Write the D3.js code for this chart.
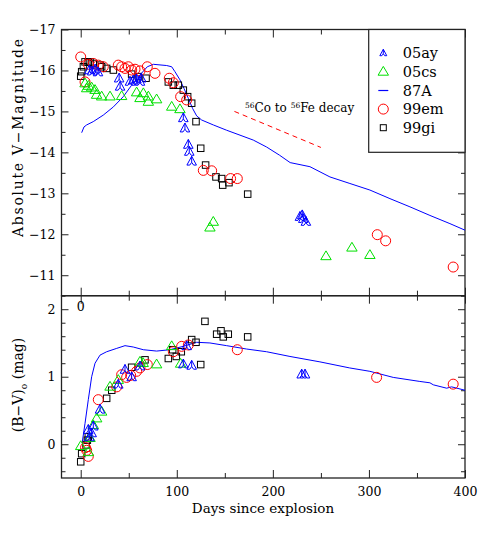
<!DOCTYPE html>
<html><head><meta charset="utf-8">
<script src="https://cdn.jsdelivr.net/npm/d3@7"></script>
<style>body{margin:0;background:#fff}svg{display:block}text{font-family:"DejaVu Serif",serif;fill:#000}</style>
</head><body>
<svg id="c" width="491" height="545"></svg>
<script>
// ---------------- DATA ----------------
const xTicksMajor = [0, 100, 200, 300, 400];
const xTicksMinor = [50, 150, 250, 350];
const vTicksMajor = [-17, -16, -15, -14, -13, -12, -11];
const vTicksMinor = [-16.5, -15.5, -14.5, -13.5, -12.5, -11.5, -10.5];
const bvTicksMajor = [0, 1, 2];
const bvTicksMinor = [-0.4, -0.2, 0.2, 0.4, 0.6, 0.8, 1.2, 1.4, 1.6, 1.8];

const series = ["05ay", "05cs", "87A", "99em", "99gi"];

// SN 1987A model curves
const a87Days = [1, 3.4, 6.2, 13, 23.5, 34, 44.3, 53, 61.7, 69.3, 75.6, 89.5, 94.7, 98.1, 103.3, 107.5, 112, 116.5, 120.7, 125.9, 138, 151.9, 165.8, 179.6, 193.5, 207, 218, 238.6, 259.4, 280.2, 301, 321.9, 342.7, 363.5, 384.3, 400];
const a87V = [-14.48, -14.62, -14.67, -14.75, -14.91, -15.11, -15.36, -15.64, -15.89, -16.09, -16.15, -16.12, -16.09, -15.97, -15.77, -15.56, -15.32, -15.07, -14.89, -14.79, -14.67, -14.54, -14.42, -14.30, -14.13, -13.93, -13.75, -13.65, -13.40, -13.24, -13.08, -12.87, -12.67, -12.46, -12.26, -12.10];
const a87BVDays = [1.7, 4.5, 7.9, 11.4, 14.9, 20.1, 27, 37.5, 46.1, 54.7, 65.1, 79, 92.9, 106.8, 120.7, 134.5, 151.9, 172.7, 193.5, 217.8, 249, 280, 301, 325.3, 353, 363.5, 367, 380.9, 386, 400];
const a87BV = [0.04, 0.31, 0.66, 1.0, 1.2, 1.32, 1.37, 1.42, 1.46, 1.44, 1.40, 1.38, 1.40, 1.45, 1.51, 1.50, 1.46, 1.41, 1.37, 1.30, 1.22, 1.13, 1.08, 0.99, 0.93, 0.91, 0.88, 0.83, 0.85, 0.80];

// SN 2005ay
const ay05VDays = [9, 12, 15, 18, 40, 41, 51.3, 54.7, 58, 61.7, 63, 106.8, 108.5, 112, 113, 115.5, 228.2, 230.6, 231.7, 234.4];
const ay05V = [-16.0, -15.97, -16.02, -15.95, -15.80, -15.60, -15.72, -15.75, -15.78, -15.72, -15.80, -14.83, -14.58, -14.18, -14.01, -13.77, -12.42, -12.46, -12.37, -12.30];
const ay05BVDays = [7.9, 9, 11.4, 13.1, 20.1, 39.1, 46.1, 53, 61.7, 106.8, 110.3, 115.5, 230, 233.5];
const ay05BV = [0.21, 0.10, 0.16, 0.26, 0.51, 0.88, 1.10, 0.99, 1.15, 1.18, 1.45, 1.16, 1.03, 1.03];

// SN 2005cs
const cs05VDays = [4.5, 6.2, 8, 11.4, 14.9, 16.5, 21.8, 30.5, 42.6, 58.2, 61.7, 65.2, 70.4, 70.4, 79, 94.7, 103.3, 134.5, 138, 255.3, 282.3, 301];
const cs05V = [-15.68, -15.56, -15.62, -15.58, -15.52, -15.40, -15.36, -15.36, -15.37, -15.46, -15.32, -15.44, -15.36, -15.23, -15.29, -15.11, -15.05, -12.16, -12.30, -11.46, -11.67, -11.49];
const cs05BVDays = [0, 8, 9.7, 13.1, 16.6, 21.8, 30.5, 39.1, 61.7, 65, 79, 94.7, 104];
const cs05BV = [-0.03, -0.12, 0.09, 0.28, 0.38, 0.48, 0.85, 0.95, 1.22, 1.20, 1.18, 1.45, 1.19];

// SN 1999em
const em99VDays = [0, 4.5, 8, 13.1, 18.3, 23.5, 39.1, 42.6, 46.1, 49.6, 53.1, 56.5, 61.7, 69.3, 77.3, 92.2, 96.4, 104, 110.3, 127.6, 136.3, 156, 163, 308.7, 317.4, 387.7];
const em99V = [-16.33, -15.72, -16.15, -16.17, -16.13, -16.09, -16.13, -16.09, -16.05, -16.09, -16.01, -16.03, -15.99, -16.09, -15.93, -15.81, -15.70, -15.36, -15.28, -13.56, -13.55, -13.36, -13.36, -11.99, -11.84, -11.2];
const em99BVDays = [5, 6.2, 7.9, 18.3, 37.5, 42.6, 47.8, 52, 58.2, 61.7, 69.3, 96.4, 105.1, 112, 163, 308, 387.7];
const em99BV = [-0.05, -0.09, -0.18, 0.66, 0.85, 1.03, 0.99, 1.02, 1.08, 1.13, 1.18, 1.37, 1.45, 1.47, 1.40, 0.99, 0.89];

// SN 1999gi
const gi99VDays = [0, 1, 2.8, 4.5, 7.9, 9.7, 13.1, 20.1, 21.8, 27, 34, 53, 60, 68, 91.2, 96.4, 101.6, 106.8, 111.3, 115.5, 120, 124.9, 130, 140.8, 146.7, 147.8, 154.3, 173.8];
const gi99V = [-15.86, -15.97, -16.09, -16.21, -16.20, -16.21, -16.17, -16.13, -16.09, -16.05, -16.01, -15.91, -15.85, -15.81, -15.72, -15.64, -15.64, -15.52, -15.36, -15.20, -14.75, -14.10, -13.69, -13.40, -13.36, -13.20, -13.26, -12.98];
const gi99BVDays = [0, 1, 5.5, 6.9, 7.9, 27, 32.3, 53, 66.9, 91.2, 95.7, 99.5, 104.7, 115.5, 120, 124.9, 129.3, 141.5, 146, 148.4, 153.6, 173.8];
const gi99BV = [-0.26, -0.14, -0.01, 0.06, 0.11, 0.68, 0.80, 1.14, 1.25, 1.27, 1.40, 1.30, 1.37, 1.55, 1.51, 1.18, 1.82, 1.63, 1.68, 1.59, 1.63, 1.59];

// Co decay guide line
const decayDays = [160, 250];
const decayV = [-15.0, -14.12];

// ---------------- DRAW ----------------
const svg = d3.select("#c");
const L = 61.5, R = 465, T = 29.5, M = 295.7, B = 478;
const x = d3.scaleLinear([-20, 400], [L, R]);
const yV = d3.scaleLinear([-17, -10.5], [T, M]);
const yBV = d3.scaleLinear([2.2, -0.5], [M, B]);

const BLUE = "#0000ff", GREEN = "#00e000", RED = "#ff0000", BLACK = "#000";
const zip = (a, b) => a.map((d, i) => [d, b[i]]);

function mk(fn, scale, vals, len, tr, fmt) {
  const ax = fn(scale).tickValues(vals).tickSizeInner(-len).tickSizeOuter(0).tickPadding(6);
  ax.tickFormat(fmt || "");
  const a = svg.append("g").attr("transform", tr).call(ax);
  a.select(".domain").remove();
  a.selectAll("line").attr("stroke", "#222").attr("stroke-width", 1);
  a.selectAll("text").attr("font-size", 12.5).attr("font-family", "DejaVu Serif").attr("fill", "#000");
  return a;
}

function panel(y, top, bot, yMaj, yMin, fmt, bottomLabels) {
  mk(d3.axisLeft, y, yMaj, 7, `translate(${L},0)`, fmt);
  mk(d3.axisLeft, y, yMin, 4, `translate(${L},0)`);
  mk(d3.axisRight, y, yMaj, 7, `translate(${R},0)`);
  mk(d3.axisRight, y, yMin, 4, `translate(${R},0)`);
  mk(d3.axisTop, x, xTicksMajor, 8, `translate(0,${top})`);
  mk(d3.axisTop, x, xTicksMinor, 5, `translate(0,${top})`);
  const ba = mk(d3.axisBottom, x, xTicksMajor, 8, `translate(0,${bot})`, bottomLabels ? d3.format("d") : null);
  if (bottomLabels) ba.selectAll("text").attr("dy", "0.95em");
  mk(d3.axisBottom, x, xTicksMinor, 5, `translate(0,${bot})`);
  svg.append("rect").attr("x", L).attr("y", top).attr("width", R - L).attr("height", bot - top)
    .attr("fill", "none").attr("stroke", "#222").attr("stroke-width", 1.3);
}

const minusFmt = d => d3.format("d")(d).replace("-", "\u2212");
panel(yV, T, M, vTicksMajor, vTicksMinor, minusFmt, false);
panel(yBV, M, B, bvTicksMajor, bvTicksMinor, d3.format("d"), true);

// markers
function tristar(g, h, color, sw) {
  g.append("path").attr("d",
    `M0,${-h} L${-0.87 * h},${0.6 * h} M0,${-h} L${0.87 * h},${0.6 * h} ` +
    `M${-0.87 * h},${0.6 * h} L${-0.35 * h},${0.6 * h} M${0.87 * h},${0.6 * h} L${0.35 * h},${0.6 * h} ` +
    `M0,${-h} L0,${0.1*h} M0,${0.1*h} L${-0.35 * h},${0.6 * h} M0,${0.1*h} L${0.35 * h},${0.6 * h}`)
    .attr("fill", "none").attr("stroke", color).attr("stroke-width", sw);
}
function triangle(g, s, color) {
  g.append("path").attr("d", `M0,${-s} L${0.95 * s},${0.6 * s} L${-0.95 * s},${0.6 * s} Z`)
    .attr("fill", "none").attr("stroke", color).attr("stroke-width", 1);
}
function circle(g, r, color) {
  g.append("circle").attr("r", r).attr("fill", "none").attr("stroke", color).attr("stroke-width", 1);
}
function square(g, s, color) {
  g.append("rect").attr("x", -s / 2).attr("y", -s / 2).attr("width", s).attr("height", s)
    .attr("fill", "none").attr("stroke", color).attr("stroke-width", 1);
}

function points(data, y, draw) {
  const g = svg.append("g");
  data.forEach(([d, v]) => {
    const p = g.append("g").attr("transform", `translate(${x(d)},${y(v)})`);
    draw(p);
  });
}

const line = (y) => d3.line().x(d => x(d[0])).y(d => y(d[1]));

// Top panel
svg.append("path").datum(zip(a87Days, a87V)).attr("d", line(yV)).attr("fill", "none").attr("stroke", BLUE).attr("stroke-width", 1);
svg.append("path").datum(zip(decayDays, decayV)).attr("d", line(yV)).attr("fill", "none")
  .attr("stroke", RED).attr("stroke-width", 1).attr("stroke-dasharray", "5,4");
points(zip(gi99VDays, gi99V), yV, p => square(p, 6.5, BLACK));
points(zip(em99VDays, em99V), yV, p => circle(p, 5, RED));
points(zip(cs05VDays, cs05V), yV, p => triangle(p, 5.5, GREEN));
points(zip(ay05VDays, ay05V), yV, p => tristar(p, 5.5, BLUE, 1));

// Bottom panel
svg.append("path").datum(zip(a87BVDays, a87BV)).attr("d", line(yBV)).attr("fill", "none").attr("stroke", BLUE).attr("stroke-width", 1);
points(zip(gi99BVDays, gi99BV), yBV, p => square(p, 6.5, BLACK));
points(zip(em99BVDays, em99BV), yBV, p => circle(p, 5, RED));
points(zip(cs05BVDays, cs05BV), yBV, p => triangle(p, 5.5, GREEN));
points(zip(ay05BVDays, ay05BV), yBV, p => tristar(p, 5.5, BLUE, 1));

// Legend
const lg = svg.append("g");
lg.append("rect").attr("x", 368.7).attr("y", T).attr("width", R - 368.7).attr("height", 152.3 - T)
  .attr("fill", "#fff").attr("stroke", "#222").attr("stroke-width", 1.2);
const ly = d3.scalePoint(series, [53.3, 127.7]);
series.forEach(s => {
  const p = lg.append("g").attr("transform", `translate(383.3,${ly(s)})`);
  if (s === "05ay") tristar(p, 4, BLUE, 1);
  if (s === "05cs") triangle(p, 5.5, GREEN);
  if (s === "87A") p.append("line").attr("x1", -5).attr("x2", 5).attr("stroke", BLUE).attr("stroke-width", 1.2);
  if (s === "99em") circle(p, 5, RED);
  if (s === "99gi") square(p, 6, BLACK);
  lg.append("text").attr("x", 402.7).attr("y", ly(s) + 5).attr("font-size", 14.5).text(s);
});

// Annotation
const an = svg.append("text").attr("x", 245).attr("y", 111.5).attr("font-size", 12);
an.append("tspan").attr("font-size", 7.5).attr("dy", -4).text("56");
an.append("tspan").attr("dy", 4).text("Co to ");
an.append("tspan").attr("font-size", 7.5).attr("dy", -4).text("56");
an.append("tspan").attr("dy", 4).text("Fe decay");

// Stray "0" label at top of lower panel
svg.append("text").attr("x", x(0)).attr("y", 311).attr("text-anchor", "middle").attr("font-size", 12.5).text("0");

// Axis titles
svg.append("text").attr("x", 263).attr("y", 513).attr("text-anchor", "middle").attr("font-size", 13.5).text("Days since explosion");
svg.append("text").attr("transform", "translate(23,138) rotate(-90)").attr("text-anchor", "middle").attr("font-size", 14)
  .attr("textLength", 198).attr("lengthAdjust", "spacing").text("Absolute V\u2212Magnitude");
const bl = svg.append("text").attr("transform", "translate(23,385) rotate(-90)").attr("text-anchor", "middle").attr("font-size", 14);
bl.append("tspan").text("(B\u2212V)");
bl.append("tspan").attr("font-size", 9).attr("dy", 4).text("o");
bl.append("tspan").attr("dy", -4).text(" (mag)");
</script>
</body></html>
